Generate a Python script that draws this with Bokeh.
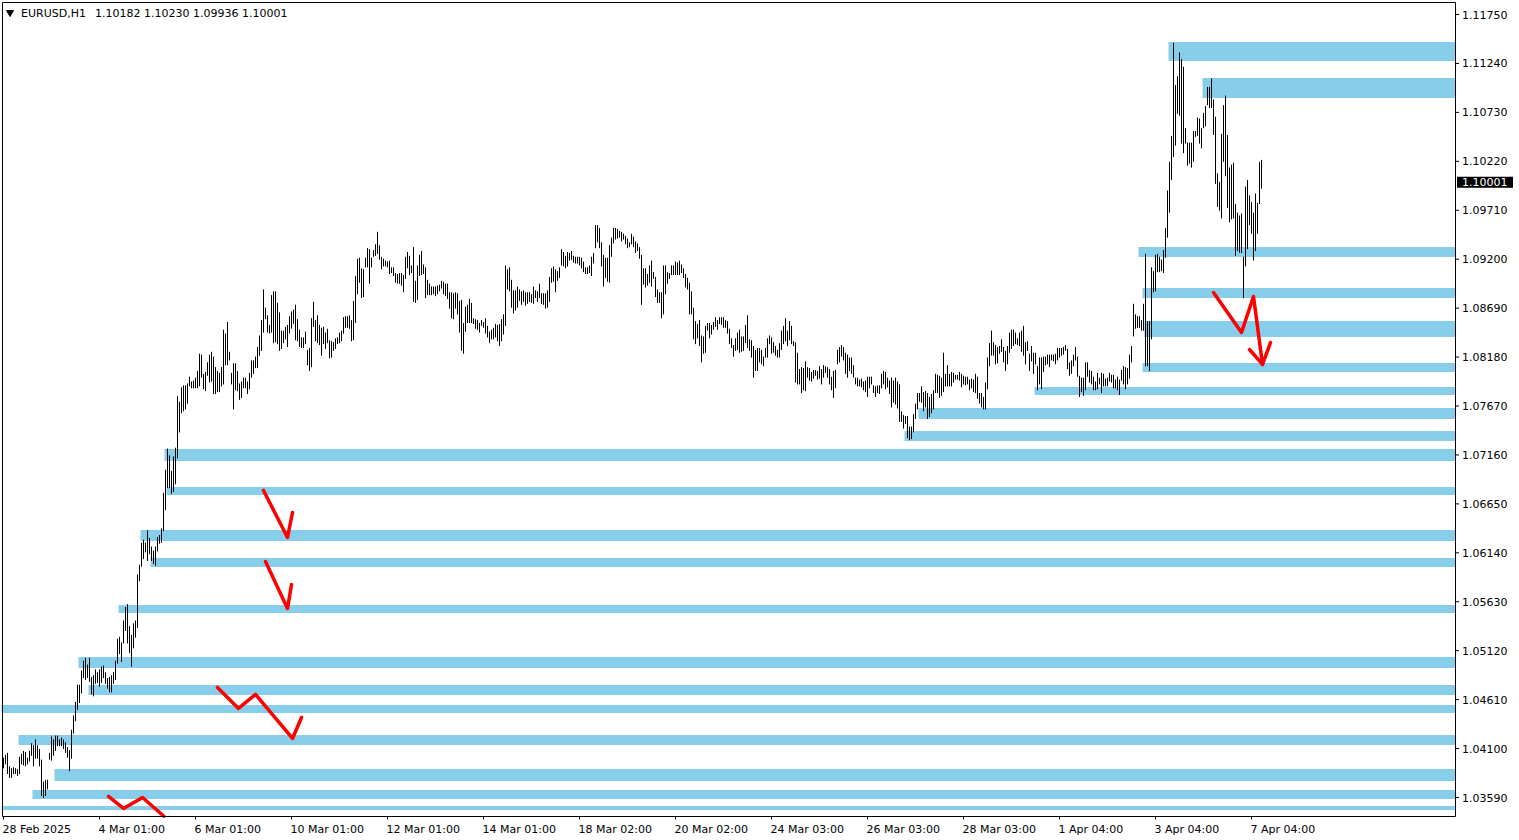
from bokeh.plotting import figure
from bokeh.models import Label, Range1d
from bokeh.embed import file_html
from bokeh.resources import INLINE
from bokeh.core.properties import value

# ---------------- data ----------------
symbol_header = "EURUSD,H1\u00a0\u00a0\u20091.10182 1.10230 1.09936 1.10001"
last_price = 1.10001

# H1 bar highs / lows (bar index 0 = 28 Feb 2025)
highs = [
    # 0
    1.0400, 1.0403, 1.0405, 1.0391, 1.0389, 1.0390, 1.0389, 1.0388, 1.0401, 1.0404,
    # 10
    1.0407, 1.0406, 1.0400, 1.0407, 1.0415, 1.0413, 1.0419, 1.0413, 1.0409, 1.0398,
    # 20
    1.0375, 1.0377, 1.0377, 1.0405, 1.0422, 1.0419, 1.0423, 1.0423, 1.0419, 1.0421,
    # 30
    1.0419, 1.0416, 1.0411, 1.0408, 1.0429, 1.0444, 1.0458, 1.0476, 1.0476, 1.0491,
    # 40
    1.0501, 1.0504, 1.0497, 1.0504, 1.0484, 1.0486, 1.0492, 1.0489, 1.0492, 1.0495,
    # 50
    1.0496, 1.0489, 1.0483, 1.0484, 1.0486, 1.0489, 1.0501, 1.0524, 1.0526, 1.0520,
    # 60
    1.0543, 1.0557, 1.0560, 1.0537, 1.0528, 1.0540, 1.0543, 1.0591, 1.0601, 1.0624,
    # 70
    1.0627, 1.0624, 1.0637, 1.0629, 1.0620, 1.0616, 1.0620, 1.0630, 1.0632, 1.0639,
    # 80
    1.0676, 1.0700, 1.0722, 1.0715, 1.0699, 1.0714, 1.0723, 1.0777, 1.0771, 1.0786,
    # 90
    1.0788, 1.0788, 1.0790, 1.0797, 1.0792, 1.0793, 1.0796, 1.0803, 1.0821, 1.0820,
    # 100
    1.0800, 1.0802, 1.0812, 1.0820, 1.0823, 1.0818, 1.0807, 1.0803, 1.0801, 1.0807,
    # 110
    1.0846, 1.0842, 1.0854, 1.0823, 1.0801, 1.0811, 1.0811, 1.0803, 1.0790, 1.0792,
    # 120
    1.0796, 1.0796, 1.0792, 1.0801, 1.0814, 1.0814, 1.0818, 1.0828, 1.0840, 1.0856,
    # 130
    1.0888, 1.0869, 1.0861, 1.0851, 1.0882, 1.0886, 1.0886, 1.0874, 1.0864, 1.0845,
    # 140
    1.0845, 1.0849, 1.0851, 1.0860, 1.0865, 1.0867, 1.0872, 1.0857, 1.0846, 1.0838,
    # 150
    1.0838, 1.0844, 1.0825, 1.0827, 1.0858, 1.0875, 1.0856, 1.0861, 1.0851, 1.0848,
    # 160
    1.0849, 1.0843, 1.0847, 1.0835, 1.0834, 1.0833, 1.0837, 1.0838, 1.0843, 1.0845,
    # 170
    1.0859, 1.0860, 1.0860, 1.0861, 1.0856, 1.0876, 1.0902, 1.0920, 1.0921, 1.0910,
    # 180
    1.0909, 1.0921, 1.0931, 1.0930, 1.0921, 1.0929, 1.0935, 1.0948, 1.0934, 1.0922,
    # 190
    1.0920, 1.0918, 1.0917, 1.0918, 1.0911, 1.0911, 1.0905, 1.0904, 1.0905, 1.0905,
    # 200
    1.0903, 1.0922, 1.0927, 1.0923, 1.0913, 1.0932, 1.0897, 1.0913, 1.0924, 1.0928,
    # 210
    1.0914, 1.0911, 1.0898, 1.0894, 1.0891, 1.0891, 1.0891, 1.0892, 1.0893, 1.0897,
    # 220
    1.0896, 1.0894, 1.0894, 1.0885, 1.0885, 1.0884, 1.0885, 1.0884, 1.0876, 1.0877,
    # 230
    1.0853, 1.0870, 1.0872, 1.0878, 1.0874, 1.0858, 1.0857, 1.0856, 1.0853, 1.0856,
    # 240
    1.0854, 1.0858, 1.0850, 1.0844, 1.0846, 1.0848, 1.0852, 1.0851, 1.0852, 1.0857,
    # 250
    1.0862, 1.0913, 1.0909, 1.0911, 1.0898, 1.0887, 1.0887, 1.0891, 1.0888, 1.0886,
    # 260
    1.0887, 1.0885, 1.0885, 1.0885, 1.0883, 1.0891, 1.0887, 1.0886, 1.0894, 1.0884,
    # 270
    1.0884, 1.0884, 1.0887, 1.0901, 1.0910, 1.0912, 1.0909, 1.0907, 1.0911, 1.0930,
    # 280
    1.0927, 1.0923, 1.0927, 1.0926, 1.0928, 1.0923, 1.0922, 1.0922, 1.0922, 1.0921,
    # 290
    1.0917, 1.0911, 1.0911, 1.0913, 1.0922, 1.0926, 1.0955, 1.0955, 1.0952, 1.0937,
    # 300
    1.0924, 1.0921, 1.0921, 1.0934, 1.0942, 1.0952, 1.0952, 1.0951, 1.0949, 1.0948,
    # 310
    1.0946, 1.0944, 1.0941, 1.0937, 1.0946, 1.0943, 1.0938, 1.0936, 1.0932, 1.0924,
    # 320
    1.0910, 1.0910, 1.0904, 1.0913, 1.0918, 1.0906, 1.0901, 1.0888, 1.0885, 1.0885,
    # 330
    1.0913, 1.0913, 1.0906, 1.0905, 1.0913, 1.0913, 1.0917, 1.0916, 1.0918, 1.0914,
    # 340
    1.0910, 1.0904, 1.0900, 1.0895, 1.0886, 1.0869, 1.0855, 1.0852, 1.0856, 1.0840,
    # 350
    1.0839, 1.0850, 1.0853, 1.0853, 1.0851, 1.0854, 1.0859, 1.0856, 1.0859, 1.0859,
    # 360
    1.0859, 1.0856, 1.0855, 1.0847, 1.0837, 1.0830, 1.0837, 1.0843, 1.0846, 1.0839,
    # 370
    1.0839, 1.0851, 1.0861, 1.0836, 1.0835, 1.0829, 1.0825, 1.0827, 1.0827, 1.0825,
    # 380
    1.0818, 1.0827, 1.0837, 1.0840, 1.0838, 1.0833, 1.0829, 1.0825, 1.0832, 1.0845,
    # 390
    1.0850, 1.0858, 1.0845, 1.0855, 1.0850, 1.0834, 1.0833, 1.0822, 1.0805, 1.0807,
    # 400
    1.0806, 1.0813, 1.0807, 1.0806, 1.0802, 1.0804, 1.0804, 1.0803, 1.0808, 1.0805,
    # 410
    1.0809, 1.0808, 1.0807, 1.0805, 1.0797, 1.0803, 1.0804, 1.0825, 1.0828, 1.0830,
    # 420
    1.0828, 1.0822, 1.0820, 1.0817, 1.0817, 1.0809, 1.0796, 1.0796, 1.0794, 1.0795,
    # 430
    1.0792, 1.0793, 1.0797, 1.0797, 1.0797, 1.0788, 1.0787, 1.0788, 1.0788, 1.0800,
    # 440
    1.0803, 1.0802, 1.0796, 1.0793, 1.0796, 1.0793, 1.0796, 1.0792, 1.0789, 1.0761,
    # 450
    1.0757, 1.0756, 1.0756, 1.0745, 1.0745, 1.0758, 1.0769, 1.0780, 1.0780, 1.0787,
    # 460
    1.0781, 1.0782, 1.0780, 1.0776, 1.0779, 1.0783, 1.0800, 1.0799, 1.0798, 1.0796,
    # 470
    1.0822, 1.0800, 1.0809, 1.0800, 1.0802, 1.0801, 1.0799, 1.0799, 1.0802, 1.0800,
    # 480
    1.0798, 1.0797, 1.0797, 1.0794, 1.0795, 1.0794, 1.0800, 1.0797, 1.0780, 1.0780,
    # 490
    1.0776, 1.0791, 1.0817, 1.0832, 1.0845, 1.0833, 1.0830, 1.0828, 1.0829, 1.0836,
    # 500
    1.0828, 1.0824, 1.0829, 1.0843, 1.0846, 1.0846, 1.0843, 1.0837, 1.0843, 1.0845,
    # 510
    1.0850, 1.0833, 1.0834, 1.0821, 1.0829, 1.0822, 1.0822, 1.0808, 1.0817, 1.0817,
    # 520
    1.0818, 1.0818, 1.0820, 1.0820, 1.0820, 1.0820, 1.0821, 1.0827, 1.0827, 1.0827,
    # 530
    1.0828, 1.0830, 1.0826, 1.0812, 1.0814, 1.0820, 1.0828, 1.0818, 1.0798, 1.0796,
    # 540
    1.0796, 1.0812, 1.0812, 1.0804, 1.0803, 1.0797, 1.0792, 1.0801, 1.0796, 1.0801,
    # 550
    1.0800, 1.0795, 1.0796, 1.0801, 1.0799, 1.0799, 1.0794, 1.0797, 1.0794, 1.0804,
    # 560
    1.0808, 1.0807, 1.0806, 1.0820, 1.0829, 1.0873, 1.0862, 1.0860, 1.0860, 1.0856,
    # 570
    1.0873, 1.0925, 1.0855, 1.0855, 1.0911, 1.0907, 1.0924, 1.0925, 1.0922, 1.0919,
    # 580
    1.0929, 1.0952, 1.0991, 1.1021, 1.1048, 1.1145, 1.1101, 1.1110, 1.1135, 1.1128,
    # 590
    1.1120, 1.1056, 1.1041, 1.1041, 1.1041, 1.1053, 1.1053, 1.1067, 1.1066, 1.1056,
    # 600
    1.1072, 1.1079, 1.1099, 1.1099, 1.1108, 1.1086, 1.1068, 1.1009, 1.1000, 1.1050,
    # 610
    1.1080, 1.1090, 1.1049, 1.1015, 1.1018, 1.1020, 1.0977, 1.0968, 1.0965, 1.0967,
    # 620
    1.0922, 1.0995, 1.1002, 1.0986, 1.0979, 1.0968, 1.0988, 1.0978, 1.1021, 1.1023,
]

lows = [
    # 0
    1.0390, 1.0394, 1.0384, 1.0380, 1.0380, 1.0384, 1.0384, 1.0382, 1.0384, 1.0394,
    # 10
    1.0393, 1.0392, 1.0394, 1.0397, 1.0403, 1.0392, 1.0400, 1.0400, 1.0392, 1.0361,
    # 20
    1.0359, 1.0361, 1.0368, 1.0399, 1.0398, 1.0403, 1.0408, 1.0413, 1.0413, 1.0413,
    # 30
    1.0410, 1.0406, 1.0401, 1.0387, 1.0400, 1.0426, 1.0439, 1.0451, 1.0458, 1.0468,
    # 40
    1.0484, 1.0482, 1.0484, 1.0480, 1.0467, 1.0465, 1.0478, 1.0479, 1.0475, 1.0479,
    # 50
    1.0484, 1.0478, 1.0473, 1.0469, 1.0469, 1.0478, 1.0482, 1.0499, 1.0509, 1.0501,
    # 60
    1.0520, 1.0533, 1.0520, 1.0510, 1.0496, 1.0515, 1.0526, 1.0536, 1.0585, 1.0600,
    # 70
    1.0608, 1.0615, 1.0606, 1.0613, 1.0606, 1.0603, 1.0601, 1.0616, 1.0624, 1.0625,
    # 80
    1.0637, 1.0659, 1.0682, 1.0682, 1.0676, 1.0678, 1.0686, 1.0713, 1.0740, 1.0760,
    # 90
    1.0762, 1.0764, 1.0770, 1.0788, 1.0786, 1.0786, 1.0786, 1.0786, 1.0788, 1.0797,
    # 100
    1.0785, 1.0783, 1.0799, 1.0792, 1.0793, 1.0780, 1.0780, 1.0782, 1.0782, 1.0788,
    # 110
    1.0790, 1.0810, 1.0810, 1.0815, 1.0790, 1.0764, 1.0784, 1.0783, 1.0774, 1.0776,
    # 120
    1.0786, 1.0786, 1.0780, 1.0785, 1.0797, 1.0801, 1.0807, 1.0807, 1.0820, 1.0825,
    # 130
    1.0844, 1.0858, 1.0844, 1.0843, 1.0844, 1.0833, 1.0834, 1.0832, 1.0825, 1.0827,
    # 140
    1.0833, 1.0837, 1.0829, 1.0843, 1.0848, 1.0853, 1.0836, 1.0835, 1.0829, 1.0828,
    # 150
    1.0828, 1.0832, 1.0810, 1.0804, 1.0808, 1.0850, 1.0835, 1.0833, 1.0831, 1.0820,
    # 160
    1.0832, 1.0827, 1.0833, 1.0817, 1.0818, 1.0825, 1.0827, 1.0832, 1.0833, 1.0835,
    # 170
    1.0843, 1.0849, 1.0849, 1.0848, 1.0835, 1.0836, 1.0854, 1.0884, 1.0896, 1.0880,
    # 180
    1.0881, 1.0912, 1.0912, 1.0895, 1.0912, 1.0923, 1.0924, 1.0926, 1.0920, 1.0910,
    # 190
    1.0913, 1.0913, 1.0912, 1.0905, 1.0906, 1.0903, 1.0896, 1.0895, 1.0895, 1.0893,
    # 200
    1.0886, 1.0900, 1.0911, 1.0904, 1.0906, 1.0876, 1.0875, 1.0878, 1.0903, 1.0904,
    # 210
    1.0905, 1.0880, 1.0883, 1.0883, 1.0883, 1.0884, 1.0882, 1.0884, 1.0887, 1.0890,
    # 220
    1.0884, 1.0882, 1.0879, 1.0869, 1.0859, 1.0858, 1.0869, 1.0863, 1.0844, 1.0825,
    # 230
    1.0822, 1.0845, 1.0854, 1.0854, 1.0854, 1.0853, 1.0848, 1.0847, 1.0844, 1.0851,
    # 240
    1.0849, 1.0843, 1.0839, 1.0833, 1.0837, 1.0837, 1.0839, 1.0835, 1.0830, 1.0835,
    # 250
    1.0842, 1.0851, 1.0889, 1.0887, 1.0870, 1.0864, 1.0867, 1.0870, 1.0877, 1.0873,
    # 260
    1.0876, 1.0872, 1.0874, 1.0876, 1.0875, 1.0874, 1.0880, 1.0876, 1.0880, 1.0874,
    # 270
    1.0873, 1.0869, 1.0870, 1.0876, 1.0896, 1.0897, 1.0886, 1.0898, 1.0901, 1.0914,
    # 280
    1.0913, 1.0911, 1.0913, 1.0919, 1.0920, 1.0917, 1.0916, 1.0916, 1.0914, 1.0911,
    # 290
    1.0907, 1.0905, 1.0905, 1.0906, 1.0903, 1.0916, 1.0932, 1.0938, 1.0932, 1.0913,
    # 300
    1.0892, 1.0901, 1.0897, 1.0896, 1.0923, 1.0937, 1.0941, 1.0942, 1.0943, 1.0939,
    # 310
    1.0941, 1.0936, 1.0932, 1.0933, 1.0936, 1.0933, 1.0927, 1.0929, 1.0921, 1.0873,
    # 320
    1.0894, 1.0891, 1.0893, 1.0896, 1.0892, 1.0900, 1.0881, 1.0875, 1.0875, 1.0859,
    # 330
    1.0863, 1.0884, 1.0895, 1.0900, 1.0904, 1.0904, 1.0904, 1.0904, 1.0904, 1.0906,
    # 340
    1.0901, 1.0891, 1.0889, 1.0863, 1.0863, 1.0837, 1.0832, 1.0838, 1.0830, 1.0813,
    # 350
    1.0822, 1.0823, 1.0846, 1.0838, 1.0842, 1.0847, 1.0850, 1.0847, 1.0853, 1.0852,
    # 360
    1.0849, 1.0849, 1.0843, 1.0832, 1.0828, 1.0819, 1.0825, 1.0826, 1.0823, 1.0824,
    # 370
    1.0825, 1.0833, 1.0828, 1.0825, 1.0818, 1.0797, 1.0804, 1.0804, 1.0813, 1.0811,
    # 380
    1.0809, 1.0818, 1.0818, 1.0832, 1.0822, 1.0823, 1.0820, 1.0818, 1.0818, 1.0826,
    # 390
    1.0832, 1.0835, 1.0830, 1.0836, 1.0832, 1.0830, 1.0792, 1.0790, 1.0790, 1.0781,
    # 400
    1.0784, 1.0783, 1.0797, 1.0794, 1.0793, 1.0796, 1.0799, 1.0795, 1.0796, 1.0790,
    # 410
    1.0797, 1.0802, 1.0797, 1.0790, 1.0784, 1.0776, 1.0786, 1.0811, 1.0813, 1.0819,
    # 420
    1.0815, 1.0801, 1.0797, 1.0804, 1.0801, 1.0797, 1.0790, 1.0788, 1.0788, 1.0787,
    # 430
    1.0784, 1.0782, 1.0777, 1.0786, 1.0790, 1.0781, 1.0777, 1.0781, 1.0780, 1.0786,
    # 440
    1.0790, 1.0785, 1.0787, 1.0780, 1.0766, 1.0771, 1.0769, 1.0765, 1.0751, 1.0751,
    # 450
    1.0744, 1.0749, 1.0734, 1.0732, 1.0733, 1.0740, 1.0754, 1.0764, 1.0772, 1.0771,
    # 460
    1.0762, 1.0766, 1.0754, 1.0756, 1.0760, 1.0764, 1.0781, 1.0781, 1.0776, 1.0778,
    # 470
    1.0782, 1.0788, 1.0788, 1.0788, 1.0788, 1.0792, 1.0795, 1.0795, 1.0794, 1.0787,
    # 480
    1.0790, 1.0789, 1.0790, 1.0784, 1.0786, 1.0782, 1.0781, 1.0775, 1.0770, 1.0766,
    # 490
    1.0764, 1.0764, 1.0785, 1.0809, 1.0820, 1.0820, 1.0811, 1.0812, 1.0822, 1.0824,
    # 500
    1.0813, 1.0804, 1.0811, 1.0823, 1.0827, 1.0830, 1.0832, 1.0831, 1.0830, 1.0824,
    # 510
    1.0820, 1.0811, 1.0825, 1.0804, 1.0814, 1.0801, 1.0811, 1.0784, 1.0790, 1.0785,
    # 520
    1.0803, 1.0810, 1.0811, 1.0808, 1.0815, 1.0814, 1.0811, 1.0815, 1.0818, 1.0820,
    # 530
    1.0821, 1.0825, 1.0806, 1.0799, 1.0801, 1.0809, 1.0815, 1.0798, 1.0777, 1.0782,
    # 540
    1.0778, 1.0784, 1.0798, 1.0792, 1.0790, 1.0784, 1.0784, 1.0785, 1.0790, 1.0781,
    # 550
    1.0788, 1.0788, 1.0788, 1.0793, 1.0792, 1.0786, 1.0786, 1.0784, 1.0779, 1.0794,
    # 560
    1.0790, 1.0785, 1.0790, 1.0796, 1.0813, 1.0840, 1.0848, 1.0849, 1.0849, 1.0846,
    # 570
    1.0846, 1.0809, 1.0809, 1.0804, 1.0837, 1.0886, 1.0887, 1.0907, 1.0907, 1.0908,
    # 580
    1.0906, 1.0922, 1.0943, 1.0969, 1.1003, 1.1027, 1.1039, 1.1072, 1.1070, 1.1041,
    # 590
    1.1031, 1.1041, 1.1018, 1.1020, 1.1016, 1.1022, 1.1048, 1.1049, 1.1041, 1.1036,
    # 600
    1.1057, 1.1059, 1.1081, 1.1078, 1.1078, 1.1050, 1.0999, 1.0975, 1.0971, 1.0963,
    # 610
    1.1022, 1.1007, 1.0974, 1.0959, 1.0962, 1.0963, 1.0924, 1.0929, 1.0927, 1.0927,
    # 620
    1.0880, 1.0913, 1.0931, 1.0956, 1.0947, 1.0919, 1.0929, 1.0947, 1.0978, 1.0994,
]

# time axis labels (bar index of each label)
time_labels = ["28 Feb 2025", "4 Mar 01:00", "6 Mar 01:00", "10 Mar 01:00",
               "12 Mar 01:00", "14 Mar 01:00", "18 Mar 02:00", "20 Mar 02:00",
               "24 Mar 03:00", "26 Mar 03:00", "28 Mar 03:00", "1 Apr 04:00",
               "3 Apr 04:00", "7 Apr 04:00"]
time_label_bars = [0, 48, 96, 144, 192, 240, 288, 336, 384, 432, 480, 528, 576, 624]

price_ticks = [1.11750, 1.11240, 1.10730, 1.10220, 1.09710, 1.09200, 1.08690,
               1.08180, 1.07670, 1.07160, 1.06650, 1.06140, 1.05630, 1.05120,
               1.04610, 1.04100, 1.03590]

# supply / demand zones: start bar, top price, bottom price (extend to the right)
zone_start_bar = [583, 600, 568, 570, 571, 570, 516, 458, 451, 81, 82,
                  69, 74, 58, 38, 43, -2, 8, 26, 15, -2]
zone_top = [1.11463, 1.11088, 1.09327, 1.08900, 1.08556, 1.08118, 1.07868,
            1.07649, 1.07409, 1.07222, 1.06826, 1.06378, 1.06086, 1.05596,
            1.05054, 1.04763, 1.04554, 1.04241, 1.03887, 1.03668, 1.03502]
zone_bottom = [1.11266, 1.10880, 1.09223, 1.08796, 1.08389, 1.08025, 1.07785,
               1.07535, 1.07306, 1.07097, 1.06743, 1.06264, 1.05993, 1.05513,
               1.04940, 1.04659, 1.04471, 1.04138, 1.03763, 1.03575, 1.03460]

# hand-drawn red arrows (bar index, price)
arrow_bars = [
    [130, 142, 144.5],
    [131, 142, 144],
    [107, 117.5, 126, 144.5, 149],
    [52.5, 60, 69.5, 80.2],
    [605, 619, 625, 629.5],
    [623, 629.5, 633.5],
]
arrow_prices = [
    [1.0679, 1.0630, 1.0656],
    [1.0605, 1.0556, 1.0581],
    [1.04737, 1.04518, 1.04664, 1.04205, 1.04424],
    [1.03601, 1.03476, 1.03590, 1.03395],
    [1.08853, 1.08436, 1.08811, 1.08103],
    [1.08259, 1.08103, 1.08332],
]

# ---------------- view settings ----------------
FONT = "DejaVu Sans"
X_START, X_END = -1.0, 758.0            # bar-index range of the whole canvas width
Y_BOTTOM, Y_TOP = 1.0314198, 1.1188548  # price range of the whole canvas height
CHART_RIGHT = 726.0                      # chart border (price scale starts right of it)
BORDER_TOP = 1.1187506
BORDER_BOTTOM = 1.0339209
BORDER_LEFT = -0.5
TIME_TICK_END = 1.0336083
TIME_LABEL_BASE = 1.0326182
HEADER_BASE = 1.1176563

bars = list(range(len(highs)))

p = figure(width=1518, height=839, output_backend="svg", toolbar_location=None,
           x_range=Range1d(X_START, X_END), y_range=Range1d(Y_BOTTOM, Y_TOP),
           x_axis_location=None, y_axis_location=None,
           min_border_left=0, min_border_top=0, min_border_right=0, min_border_bottom=0,
           margin=(1, 0, 0, 1))

p.background_fill_color = "white"
p.border_fill_color = "white"
p.outline_line_color = None
p.grid.visible = False

# zones
p.quad(left=[s - 0.5 for s in zone_start_bar],
       right=[CHART_RIGHT - 0.25] * len(zone_start_bar),
       top=zone_top, bottom=zone_bottom, fill_color="#87CEEB", line_color=None)

# price bars
p.segment(x0=bars, y0=lows, x1=bars, y1=highs, line_color="black",
          line_width=1, line_cap="square")

# arrows
p.multi_line(xs=arrow_bars, ys=arrow_prices, line_color="#FF0000",
             line_width=3.5, line_join="round", line_cap="round")

# chart border
p.segment(x0=[BORDER_LEFT, BORDER_LEFT, CHART_RIGHT, BORDER_LEFT],
          y0=[BORDER_TOP, BORDER_BOTTOM, BORDER_BOTTOM, BORDER_BOTTOM],
          x1=[CHART_RIGHT, BORDER_LEFT, CHART_RIGHT, CHART_RIGHT],
          y1=[BORDER_TOP, BORDER_TOP, BORDER_TOP, BORDER_BOTTOM],
          line_color="black", line_width=1)

# price scale (ticks + labels) right of the chart
n = len(price_ticks)
p.segment(x0=[CHART_RIGHT] * n, x1=[CHART_RIGHT + 1.75] * n,
          y0=price_ticks, y1=price_ticks, line_color="black", line_width=1)
p.text(x=[CHART_RIGHT + 3.25] * n, y=price_ticks,
       text=["%.5f" % t for t in price_ticks],
       text_font=value(FONT), text_font_size="11px", text_color="black",
       text_baseline="middle", text_align="left")

# time scale (ticks + labels) below the chart
m = len(time_label_bars)
p.segment(x0=time_label_bars, x1=time_label_bars,
          y0=[BORDER_BOTTOM] * m, y1=[TIME_TICK_END] * m,
          line_color="black", line_width=1)
p.text(x=[b - 0.5 for b in time_label_bars], y=[TIME_LABEL_BASE] * m,
       text=time_labels, text_font=value(FONT), text_font_size="11px",
       text_color="black", text_baseline="alphabetic", text_align="left")

# current price box
box_half = 0.000573
p.quad(left=[CHART_RIGHT + 0.75], right=[CHART_RIGHT + 28.75],
       top=[last_price + box_half], bottom=[last_price - box_half],
       fill_color="black", line_color=None)
p.text(x=[CHART_RIGHT + 3.25], y=[last_price], text=["%.5f" % last_price],
       text_font=value(FONT), text_font_size="11px", text_color="white",
       text_baseline="middle", text_align="left")

# header
p.scatter(x=[3.25], y=[1.1177084], marker="inverted_triangle", size=7,
          fill_color="black", line_color="black")
p.add_layout(Label(x=8.75, y=HEADER_BASE, text=symbol_header, text_font=FONT,
                   text_font_size="11px", text_color="black",
                   text_baseline="alphabetic", text_align="left"))

open("out.html", "w").write(file_html(p, INLINE))
